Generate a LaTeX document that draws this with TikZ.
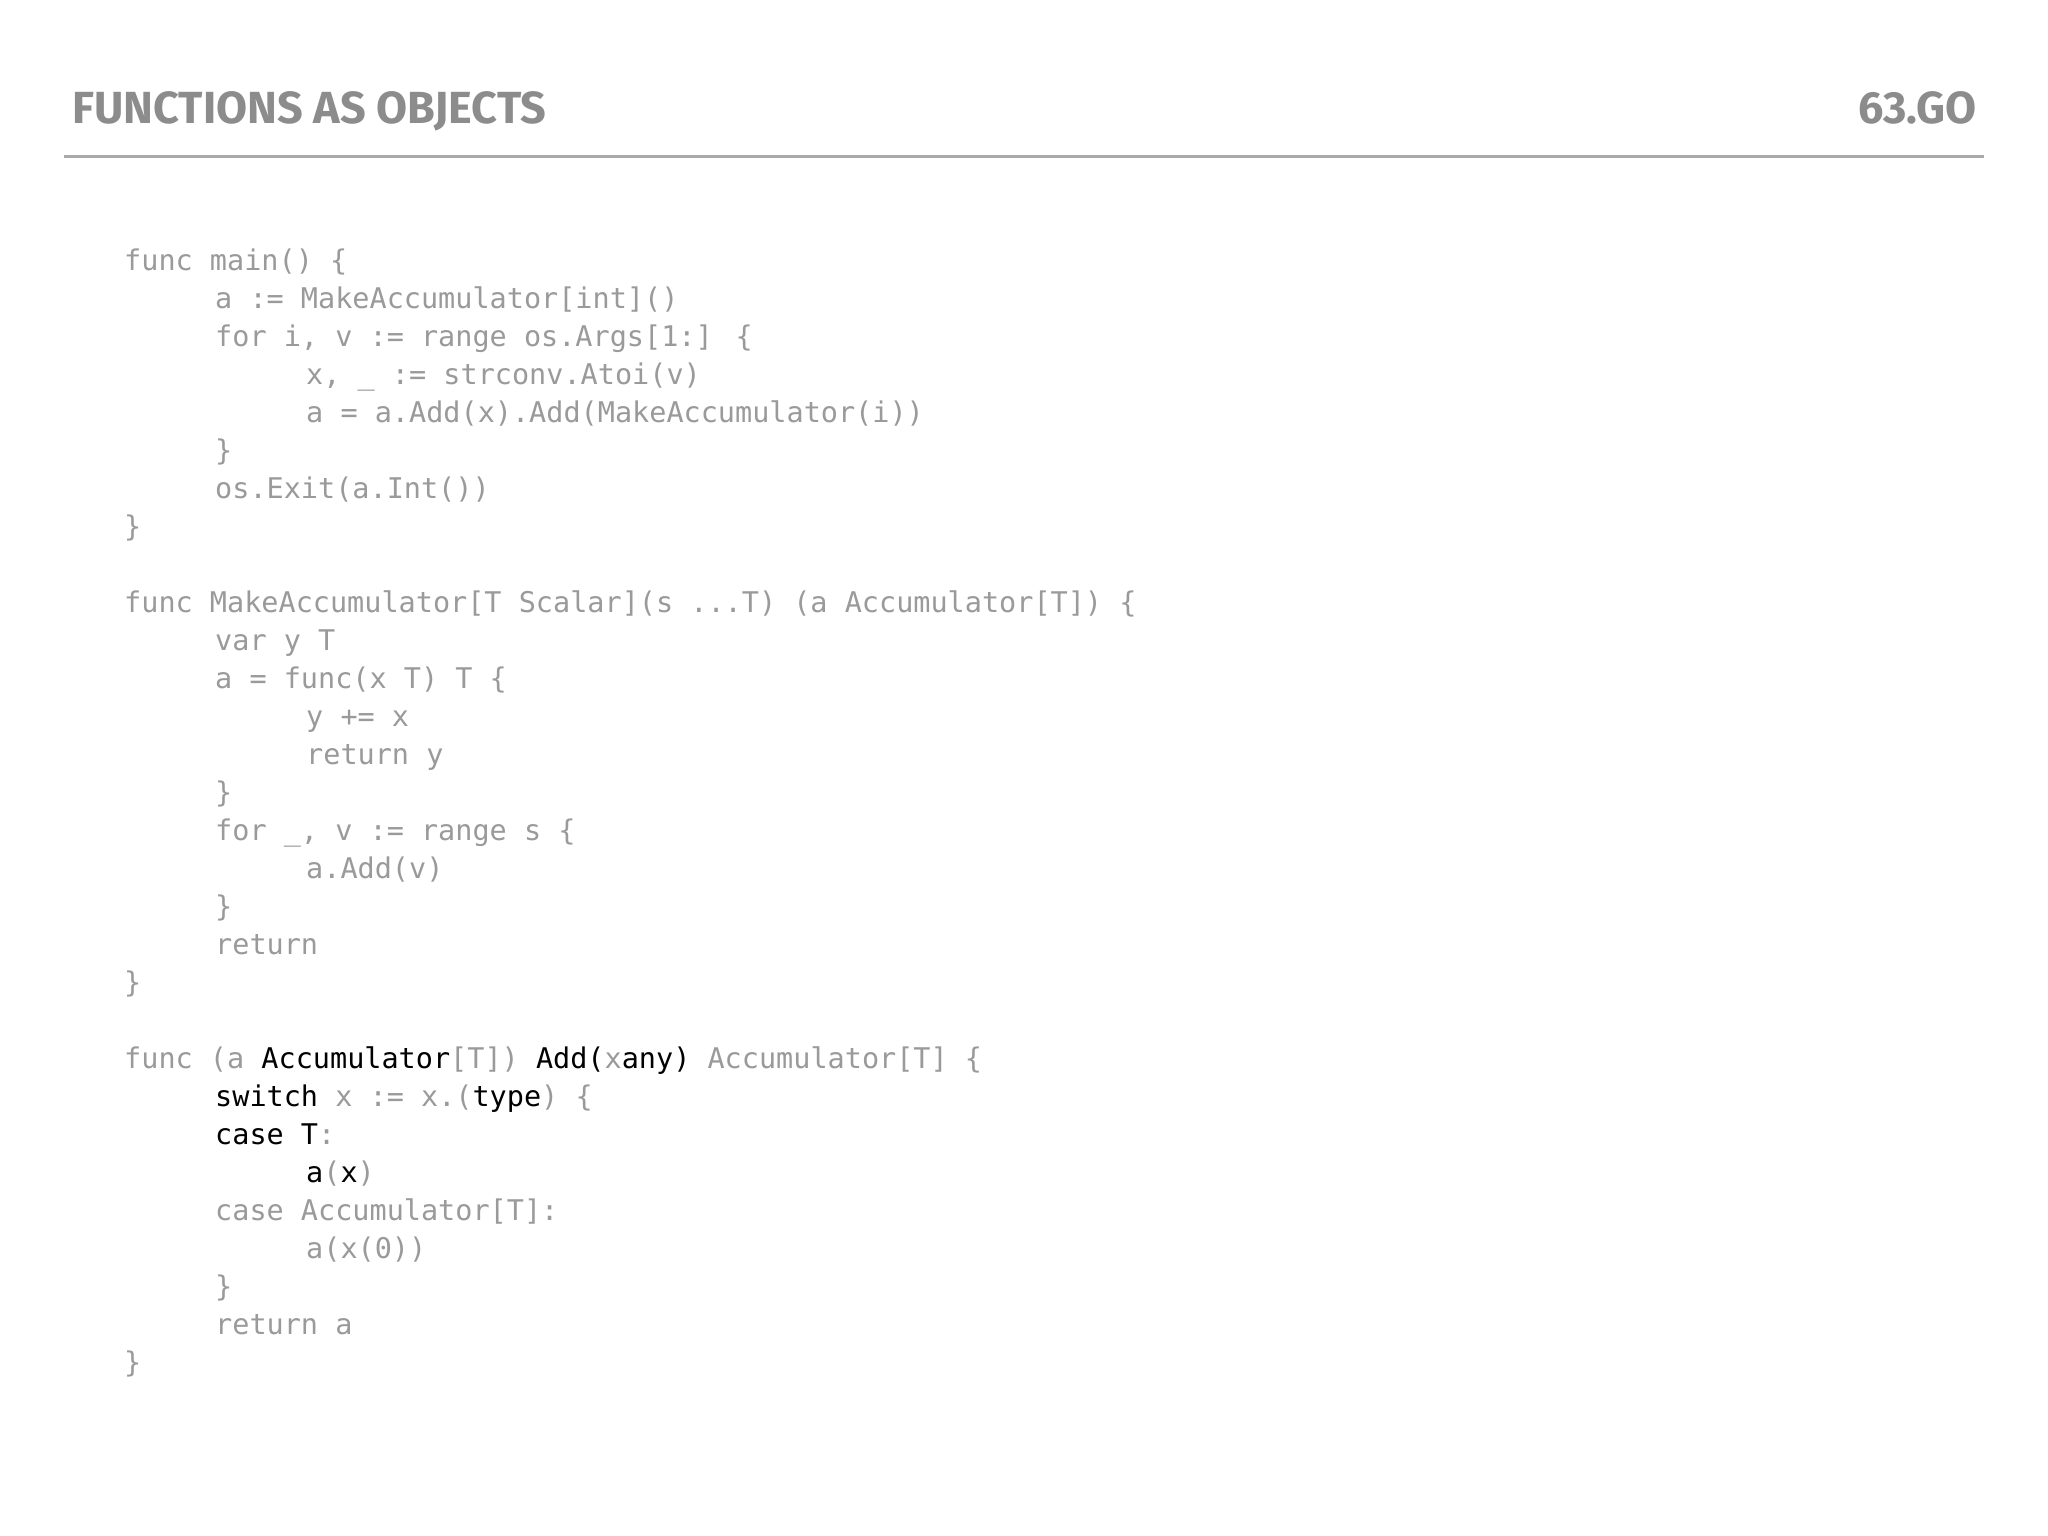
\documentclass[tikz,border=0pt]{standalone}
\usepackage{fontspec}
\setmainfont{Fira Sans}
\newfontfamily\codefont{DejaVu Sans Mono}
\definecolor{tgray}{HTML}{8C8C8C}
\definecolor{cgray}{HTML}{9A9A9A}
\definecolor{rule}{HTML}{AAAAAA}
\newcommand{\B}[1]{\textcolor{black}{#1}}
\begin{document}
\begin{tikzpicture}[x=1pt,y=1pt,
  code/.style={anchor=mid west,inner sep=0pt,font=\codefont\fontsize{28.5}{34}\selectfont,text=cgray},
  title/.style={inner sep=0pt,font=\fontsize{45}{54}\selectfont\bfseries,text=tgray}]
\useasboundingbox[fill=white] (0,0) rectangle (2048,-1536);
\node[title,anchor=base west] (t) at (72,-124) {FUNCTIONS AS OBJECTS};
\node[title,anchor=base east] (n) at (1977,-124) {63.GO};
\coordinate (r1) at (64,-157); \coordinate (r2) at (1984,-157);
\draw[rule,line width=3pt] (r1) -- (r2);
\def\L#1#2#3{\node[code] (l#1) at (124+91*#2,-268-38*#1) {#3};}
\L{0}{0}{func main() \{}
\L{1}{1}{a := MakeAccumulator[int]()}
\L{2}{1}{for i, v := range os.Args[1:] \{}
\L{3}{2}{x, \_ := strconv.Atoi(v)}
\L{4}{2}{a = a.Add(x).Add(MakeAccumulator(i))}
\L{5}{1}{\}}
\L{6}{1}{os.Exit(a.Int())}
\L{7}{0}{\}}
\L{9}{0}{func MakeAccumulator[T Scalar](s ...T) (a Accumulator[T]) \{}
\L{10}{1}{var y T}
\L{11}{1}{a = func(x T) T \{}
\L{12}{2}{y += x}
\L{13}{2}{return y}
\L{14}{1}{\}}
\L{15}{1}{for \_, v := range s \{}
\L{16}{2}{a.Add(v)}
\L{17}{1}{\}}
\L{18}{1}{return}
\L{19}{0}{\}}
\L{21}{0}{func (a \B{Accumulator}[T]) \B{Add(}x\B{ any)} Accumulator[T] \{}
\L{22}{1}{\B{switch} x := x.(\B{type}) \{}
\L{23}{1}{\B{case T}:}
\L{24}{2}{\B{a}(\B{x})}
\L{25}{1}{case Accumulator[T]:}
\L{26}{2}{a(x(0))}
\L{27}{1}{\}}
\L{28}{1}{return a}
\L{29}{0}{\}}
\end{tikzpicture}
\end{document}
